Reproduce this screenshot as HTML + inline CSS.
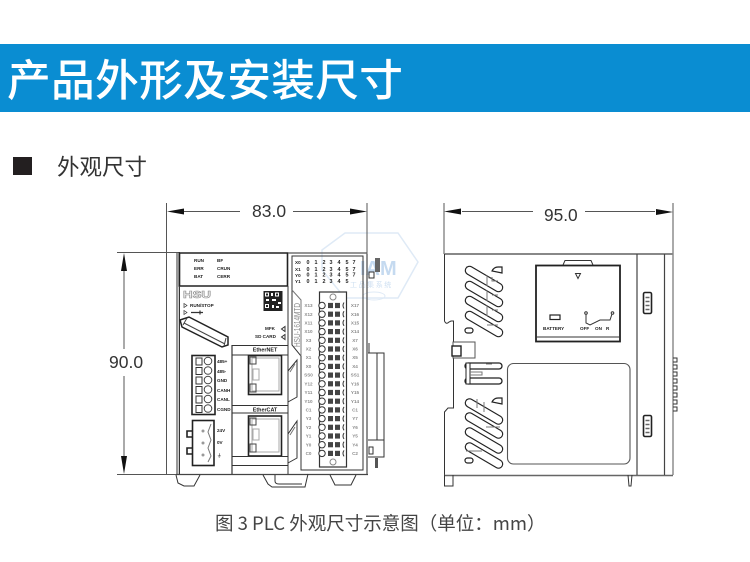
<!DOCTYPE html>
<html lang="zh"><head><meta charset="utf-8"><title>产品外形及安装尺寸</title>
<style>
html,body{margin:0;padding:0;background:#fff;width:750px;height:562px;overflow:hidden}
svg{display:block;filter:blur(.3px)}
text{font-family:"Liberation Sans","Noto Sans CJK SC",sans-serif}
.cjk{font-family:"Noto Sans CJK SC","Liberation Sans",sans-serif}
.s{font-size:4.600px;font-weight:bold;fill:#222}
.g{font-size:4.600px;font-weight:bold;fill:#8a8a8a;text-anchor:middle}
.d{font-size:5.400px;font-weight:bold;fill:#222;text-anchor:middle}
.l{fill:none;stroke:#333;stroke-width:1}
.b{fill:none;stroke:#222;stroke-width:1.6}
.h{fill:none;stroke:#777;stroke-width:1}
</style></head><body>
<svg width="750" height="562" viewBox="0 0 750 562" xmlns="http://www.w3.org/2000/svg">
<defs>
<g id="row"><circle cx="322" cy="0" r="3.200" fill="#fff" stroke="#333" stroke-width="1"/><rect x="328" y="-2.600" width="5" height="5.200" fill="#444"/><rect x="335" y="-2.600" width="5" height="5.200" fill="#444"/><path d="M344 -3q-2 3 0 6" class="l"/></g>
<g id="vent"><line x1="0" y1="0" x2="29" y2="17" stroke="#222" stroke-width="9.500" stroke-linecap="round"/><line x1="0" y1="0" x2="29" y2="17" stroke="#fff" stroke-width="7.200" stroke-linecap="round"/></g>
<g id="bar"><rect x="0" y="0" width="8" height="21" rx="1.500" fill="#fff" stroke="#222" stroke-width="1.600"/><path d="M2 5h4M2 9h4M2 13h4M2 17h4" stroke="#666" stroke-width="1.400"/></g>
</defs>

<!-- banner -->
<rect x="0" y="44" width="750" height="68" fill="#0a8dd2"/>
<text class="cjk" x="7" y="96" font-size="43.700" fill="#fff" letter-spacing=".35" font-weight="500">产品外形及安装尺寸</text>
<rect x="13" y="157" width="19" height="18" fill="#231f20"/>
<text class="cjk" x="57" y="175" font-size="22.500" fill="#333">外观尺寸</text>

<!-- watermark -->
<g>
<path d="M322 250L345 233H398L418 262L398 298H345L322 270Z" fill="none" stroke="#dfeaf6" stroke-width="1.500"/>
<ellipse cx="374" cy="296" rx="11" ry="4" fill="none" stroke="#dfeaf6"/>
<text x="360" y="275" font-size="20" font-weight="bold" fill="#c5daf0">IAM</text>
<text class="cjk" x="350" y="287" font-size="7" fill="#cfe0f2">工 品 集 系 统</text>
</g>

<!-- left dimensions -->
<g stroke="#555" stroke-width="1" fill="none">
<path d="M166.500 203V474M367 203V254"/>
<path d="M184 211.500H240M293 211.500H350"/>
<path d="M117 252.500H180M117 474.500H180"/>
<path d="M124 270V349M124 376V457"/>
</g>
<path d="M167 211.500L184 208.500V214.500ZM367 211.500L350 208.500V214.500ZM124 253L121 271H127ZM124 474L121 456H127Z" fill="#111"/>
<text x="252" y="217" font-size="17.500" fill="#333">83.0</text>
<text x="109" y="368" font-size="17.500" fill="#333">90.0</text>

<!-- left body -->
<rect x="176" y="253" width="2.500" height="222" fill="#999"/>
<path d="M179.500 253H287.500V286H179.500Z" class="b"/>
<path d="M179.500 286V474M288 286V474" class="l" stroke-width="1.300"/>
<path d="M176 474.500H368" stroke="#444" stroke-width="1.300"/>
<text class="s" x="194" y="262">RUN</text><text class="s" x="217" y="262">BF</text>
<text class="s" x="194" y="270">ERR</text><text class="s" x="217" y="270">CRUN</text>
<text class="s" x="194" y="278">BAT</text><text class="s" x="217" y="278">CERR</text>
<text x="183" y="298" font-size="10" fill="#fff" stroke="#888" stroke-width=".6" font-weight="bold" textLength="28" lengthAdjust="spacingAndGlyphs">HSU</text>
<!-- QR -->
<g>
<rect x="263.500" y="291" width="19" height="20" fill="#222"/>
<rect x="265" y="292.500" width="4" height="4" fill="#fff"/><rect x="275" y="292.500" width="4" height="4" fill="#fff"/><rect x="265" y="304" width="4" height="4" fill="#fff"/>
<path d="M271 293h2v3h-2zM266 299h3v2h-3zM272 299h4v2h-4zM278 302h3v2h-3zM272 305h2v3h-2zM276 306h3v2h-3z" fill="#fff"/>
<rect x="266" y="293.500" width="2" height="2" fill="#222"/><rect x="276" y="293.500" width="2" height="2" fill="#222"/><rect x="266" y="305" width="2" height="2" fill="#222"/>
</g>
<path d="M184 303.500v4l3-2zM184 310.500v4l3-2z" fill="#fff" stroke="#333" stroke-width=".7"/>
<text class="s" x="190" y="307">RUN/STOP</text>
<path d="M191 312.500h12m-3-2v4" stroke="#333" stroke-width="1.200"/>
<text class="s" x="265" y="330">MFK</text><path d="M285 326.500v5l-3.500-2.500z" class="l" stroke-width=".7"/>
<text class="s" x="255" y="338">SD CARD</text><path d="M285 334.500v5l-3.500-2.500z" class="l" stroke-width=".7"/>
<!-- diagonal slot -->
<path d="M180 320L189 317L228 337L228 345L222 347L182 327Z" fill="#fff" stroke="#222" stroke-width="1.500"/>
<path d="M184 323L225 344M187 318L183 325M226 338L224 346" stroke="#444" stroke-width="1" fill="none"/>
<!-- EtherNET -->
<path d="M232 345V474" stroke="#444" stroke-width="1.300"/>
<path d="M232 345.500H288M232 355H288" class="l"/>
<text class="d" x="265" y="351.500">EtherNET</text>
<rect x="248.500" y="355.500" width="33" height="39" class="b"/>
<rect x="252" y="358" width="27" height="33" fill="none" stroke="#aaa"/>
<rect x="250" y="357" width="6" height="7" fill="none" stroke="#444"/><rect x="250" y="384" width="6" height="8" fill="none" stroke="#444"/>
<path d="M253 369h6v11h-6z" fill="none" stroke="#aaa"/>
<path d="M232 405.500H288M232 413H288" class="l"/>
<text class="d" x="265" y="411.500">EtherCAT</text>
<rect x="248.500" y="416" width="33" height="40" class="b"/>
<rect x="252" y="419" width="27" height="33" fill="none" stroke="#aaa"/>
<rect x="250" y="418" width="6" height="7" fill="none" stroke="#444"/><rect x="250" y="444" width="6" height="8" fill="none" stroke="#444"/>
<path d="M253 429h6v11h-6z" fill="none" stroke="#aaa"/>
<path d="M232 456.500H288M232 465.500H288" class="l"/>
<path d="M288 371L297 360V397L288 402M288 434L297 421V458L288 463" class="l"/>
<path d="M290 372L295 364M290 435L295 427" class="h"/>
<!-- terminal -->
<rect x="192" y="355.500" width="23" height="59" fill="#fff" class="b"/>
<g fill="#fff" stroke="#444"><circle cx="208" cy="361" r="3.800"/><circle cx="208" cy="370.500" r="3.800"/><circle cx="208" cy="380" r="3.800"/><circle cx="208" cy="389.500" r="3.800"/><circle cx="208" cy="399" r="3.800"/><circle cx="208" cy="408.500" r="3.800"/></g>
<g fill="none" stroke="#333"><rect x="196" y="358" width="6" height="7"/><rect x="196" y="367.500" width="6" height="7"/><rect x="196" y="377" width="6" height="7"/><rect x="196" y="386.500" width="6" height="7"/><rect x="196" y="396" width="6" height="7"/><rect x="196" y="405.500" width="6" height="7"/></g>
<text class="s" x="217" y="363">485+</text><text class="s" x="217" y="373">485-</text><text class="s" x="217" y="382">GND</text><text class="s" x="217" y="392">CANH</text><text class="s" x="217" y="401">CANL</text><text class="s" x="217" y="411">CGND</text>
<!-- power -->
<rect x="192.500" y="420.500" width="21.500" height="45" class="b"/>
<path d="M211 424l-3 8 3 8-3 8 3 8 -3 6" class="h"/>
<circle cx="203" cy="431" r="1.500" fill="#999"/><circle cx="203" cy="443" r="1.500" fill="#999"/><circle cx="203" cy="455" r="1.500" fill="#999"/>
<path d="M192 431h-5v6h5M192 448h-5v6h5" class="b" stroke-width="1.200"/>
<text class="s" x="217" y="432">24V</text><text class="s" x="217" y="444">0V</text><text class="s" x="217" y="457">⏚</text>
<!-- feet -->
<path d="M176 475L178 483L184 486H194L200 475" class="l"/>
<path d="M263 475L268 484L272 487H305L308 474" class="l"/><path d="M275 475V481Q275 484 279 484H302" class="l"/>
<path d="M330 475L335 485H351L356 475" class="l"/>

<!-- right part of left view -->
<path d="M292 256H363V470H301V356L292 345V256Z" class="l" stroke-width="1.200"/>
<path d="M292 290L301 300V356" class="h"/>
<path d="M367 254V474" stroke="#555" stroke-width="1.300"/>
<path d="M288 253H367" stroke="#555" stroke-width="1.300"/>
<text x="0" y="0" transform="translate(300,347) rotate(-90)" font-size="7.800" fill="#888" textLength="44" lengthAdjust="spacingAndGlyphs">HSU-1614MTD</text>
<text class="s" x="295" y="264">X0</text><text class="s" x="295" y="271">X1</text><text class="s" x="295" y="277">Y0</text><text class="s" x="295" y="283">Y1</text>
<text class="d" x="308" y="264">0</text><text class="d" x="316" y="264">1</text><text class="d" x="324" y="264">2</text><text class="d" x="331" y="264">3</text><text class="d" x="339" y="264">4</text><text class="d" x="347" y="264">5</text><text class="d" x="354" y="264">7</text>
<text class="d" x="308" y="271">0</text><text class="d" x="316" y="271">1</text><text class="d" x="324" y="271">2</text><text class="d" x="331" y="271">3</text><text class="d" x="339" y="271">4</text><text class="d" x="347" y="271">5</text><text class="d" x="354" y="271">7</text>
<text class="d" x="308" y="276.500">0</text><text class="d" x="316" y="276.500">1</text><text class="d" x="324" y="276.500">2</text><text class="d" x="331" y="276.500">3</text><text class="d" x="339" y="276.500">4</text><text class="d" x="347" y="276.500">5</text><text class="d" x="354" y="276.500">7</text>
<text class="d" x="308" y="283">0</text><text class="d" x="316" y="283">1</text><text class="d" x="324" y="283">2</text><text class="d" x="331" y="283">3</text><text class="d" x="339" y="283">4</text><text class="d" x="347" y="283">5</text>
<!-- terminal strip -->
<rect x="319.500" y="292" width="27" height="175" fill="#fff" stroke="#333" stroke-width="1.200"/>
<circle cx="333" cy="297" r="3" fill="#fff" stroke="#888"/><circle cx="333" cy="462" r="3" fill="#fff" stroke="#888"/>
<use href="#row" y="305.500"/><use href="#row" y="314.200"/><use href="#row" y="322.900"/><use href="#row" y="331.600"/><use href="#row" y="340.300"/><use href="#row" y="349"/><use href="#row" y="357.700"/><use href="#row" y="366.400"/><use href="#row" y="375.100"/><use href="#row" y="383.800"/><use href="#row" y="392.500"/><use href="#row" y="401.200"/><use href="#row" y="409.900"/><use href="#row" y="418.600"/><use href="#row" y="427.300"/><use href="#row" y="436"/><use href="#row" y="444.700"/><use href="#row" y="453.400"/>
<text class="g" x="308.500" y="307">X13</text><text class="g" x="308.500" y="316">X12</text><text class="g" x="308.500" y="324.500">X11</text><text class="g" x="308.500" y="333">X10</text><text class="g" x="308.500" y="342">X3</text><text class="g" x="308.500" y="350.500">X2</text><text class="g" x="308.500" y="359">X1</text><text class="g" x="308.500" y="368">X0</text><text class="g" x="308.500" y="376.500">SS0</text><text class="g" x="308.500" y="385.500">Y12</text><text class="g" x="308.500" y="394">Y11</text><text class="g" x="308.500" y="403">Y10</text><text class="g" x="308.500" y="411.500">C1</text><text class="g" x="308.500" y="420">Y3</text><text class="g" x="308.500" y="429">Y2</text><text class="g" x="308.500" y="437.500">Y1</text><text class="g" x="308.500" y="446.500">Y0</text><text class="g" x="308.500" y="455">C0</text>
<text class="g" x="355" y="307">X17</text><text class="g" x="355" y="316">X16</text><text class="g" x="355" y="324.500">X15</text><text class="g" x="355" y="333">X14</text><text class="g" x="355" y="342">X7</text><text class="g" x="355" y="350.500">X6</text><text class="g" x="355" y="359">X5</text><text class="g" x="355" y="368">X4</text><text class="g" x="355" y="376.500">SS1</text><text class="g" x="355" y="385.500">Y16</text><text class="g" x="355" y="394">Y15</text><text class="g" x="355" y="403">Y14</text><text class="g" x="355" y="411.500">C1</text><text class="g" x="355" y="420">Y7</text><text class="g" x="355" y="429">Y6</text><text class="g" x="355" y="437.500">Y5</text><text class="g" x="355" y="446.500">Y4</text><text class="g" x="355" y="455">C2</text>
<!-- side connector -->
<rect x="375" y="258" width="5" height="14" fill="#666"/><path d="M369 272h5v6h-5z" class="l"/>
<path d="M368 353H384V457H368M377 353V440M368 440H384M369 343V353" class="l"/>
<rect x="369" y="447" width="4" height="7" class="l"/>
<rect x="375" y="458" width="3" height="10" fill="#555"/>

<!-- right dims -->
<g stroke="#555" stroke-width="1" fill="none">
<path d="M444 203V254M673 203V475"/>
<path d="M462 211.500H533M585 211.500H655"/>
</g>
<path d="M444 211.500L461 208.500V214.500ZM673 212L656 209V215Z" fill="#111"/>
<text x="544" y="221" font-size="17.300" fill="#333">95.0</text>

<!-- right view -->
<path d="M444 254H673" stroke="#888" stroke-width="2"/>
<path d="M444.500 254V321Q446 325 449 322L451 321H453.500V408H448L444.500 412V475" class="l" stroke-width="1.200"/>
<path d="M444 475.500H673" stroke="#666" stroke-width="1.500"/>
<path d="M637 254V475M664.500 254V475" stroke="#444" stroke-width="1.200"/>
<path d="M673 358h4v4h-4M673 365h4v4h-4M673 372h4v4h-4M673 379h4v4h-4M673 386h4v4h-4M673 393h4v4h-4M673 400h4v4h-4M673 407h4v4h-4" class="l"/>
<!-- vents -->
<use href="#vent" x="469.500" y="270.500"/><use href="#vent" x="469.500" y="285.500"/><use href="#vent" x="469.500" y="300.500"/><use href="#vent" x="469.500" y="315.500"/>
<path d="M492 271Q494 267 498 267H502V273Z" fill="#fff" stroke="#222" stroke-width="1.200"/>
<path d="M487 275V286M492 277v4h6M487 290v11M492 295h6M487 305v11M492 310h6M487 325h11" class="h"/>
<rect x="465" y="328" width="8" height="5" rx="2.500" fill="#fff" stroke="#222" stroke-width="1.200"/>
<rect x="453" y="342" width="22" height="16" fill="#fff" stroke="#555"/>
<rect x="452" y="346" width="9" height="10" fill="#fff" stroke="#222" stroke-width="1.400"/>
<!-- middle clip -->
<rect x="465" y="363" width="37" height="6" rx="3" fill="#fff" stroke="#222" stroke-width="1.300"/>
<rect x="465" y="378" width="37" height="6" rx="3" fill="#fff" stroke="#222" stroke-width="1.300"/>
<path d="M466 363H470V384H466Z" fill="#fff" stroke="#222"/>
<path d="M470 372h12v3h-12M486 364h6" class="h"/>
<use href="#vent" x="469.500" y="403"/><use href="#vent" x="469.500" y="417"/><use href="#vent" x="469.500" y="432"/><use href="#vent" x="469.500" y="447"/>
<path d="M492 402Q494 398 498 398H502V404Z" fill="#fff" stroke="#222" stroke-width="1.200"/>
<path d="M477 399V408M484 402V412M466 451h16M486 427h14" class="h"/>
<rect x="465" y="458" width="8" height="5" rx="2.500" fill="#fff" stroke="#222" stroke-width="1.200"/>
<!-- door -->
<rect x="536" y="265.500" width="84" height="76" fill="#fff" stroke="#222" stroke-width="1.800"/>
<path d="M536 337H620" stroke="#333"/>
<path d="M563 265L565 260.500H591L593 265" class="l" stroke-width="1.200"/>
<path d="M575.500 273.500h5l-2.500 5z" class="l"/>
<rect x="550" y="315" width="10" height="4.500" fill="#fff" stroke="#222" stroke-width="1.200"/>
<text class="s" x="543" y="330">BATTERY</text>
<text class="s" x="580" y="330">OFF</text><text class="s" x="595" y="330">ON</text><text class="s" x="606" y="330">R</text>
<path d="M586 314V323L590 325L600 320H610L612 314" class="l"/>
<circle cx="586" cy="313" r="1.300" fill="#fff" stroke="#333"/><circle cx="612.500" cy="313" r="1.300" fill="#fff" stroke="#333"/>
<!-- window -->
<rect x="507.500" y="363.500" width="122.500" height="100.500" rx="6" fill="#fff" stroke="#555" stroke-width="1.100"/>
<use href="#bar" x="643.500" y="292.500"/><use href="#bar" x="643.500" y="415.500"/>
<!-- feet -->
<path d="M444.500 475V486H453V475" class="l" stroke-width="1.300"/>
<path d="M628 475L629 486H631L632 475" class="l"/>

<text class="cjk" x="215" y="530" font-size="18.500" fill="#444">图 3 PLC 外观尺寸示意图（单位：mm）</text>
</svg>
</body></html>
